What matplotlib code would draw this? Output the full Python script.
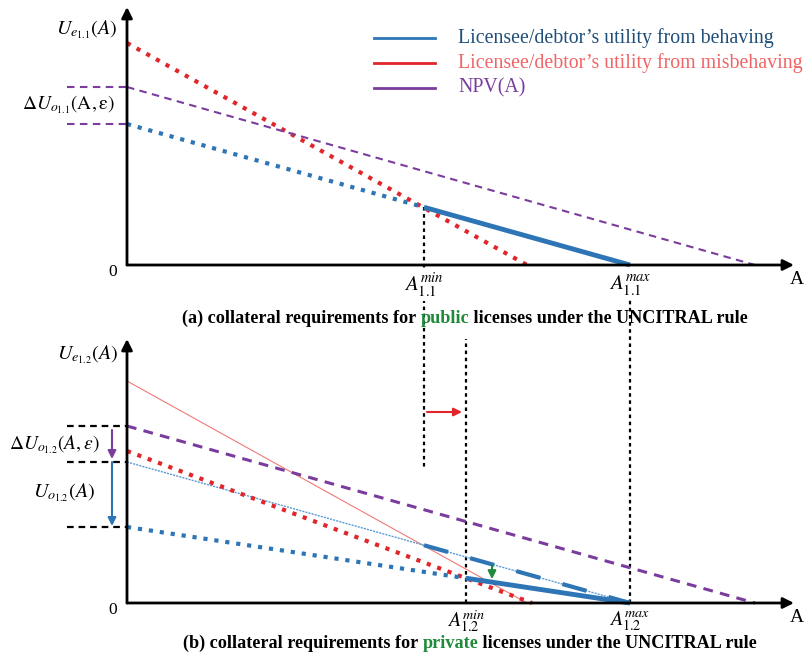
import matplotlib.pyplot as plt

plt.rcParams['mathtext.fontset'] = 'stix'
SERIF = 'Liberation Serif'

BLUE = '#2e75b6'
RED = '#e0262a'
PURPLE = '#7a3d9e'
GREEN = '#1e8a3a'

# each utility line: (value at A = 0, A where it reaches 0), in panel units
behave_a = (141, 503)
misbehave_a = (222, 400)
npv_a = (178, 628)
a_min_a = 297
a_max_a = 503

behave_b = (76, 503)
misbehave_b = (152, 405)
npv_b = (177, 628)
a_min_b = 339
a_max_b = 503

shift_arrow_y = 191
drop_arrow_x = 365

legend_labels = ['Licensee/debtor’s utility from behaving',
                 'Licensee/debtor’s utility from misbehaving',
                 'NPV(A)']
legend_colors = [BLUE, RED, PURPLE]
legend_text_colors = ['#1f4e79', '#f06466', '#7a3d9e']


def line_y(line, x):
    b, x0 = line
    return b * (1 - x / x0)


def seg(ax, line, x0, x1, **kw):
    ax.plot([x0, x1], [line_y(line, x0), line_y(line, x1)],
            clip_on=False, **kw)


def arrow(ax, start, end, color, lw=1.5, ms=12):
    ax.annotate('', xy=end, xytext=start, annotation_clip=False,
                arrowprops=dict(arrowstyle='-|>', color=color, lw=lw,
                                mutation_scale=ms, shrinkA=0, shrinkB=0))


def caption(ax, x, y, parts):
    prev = None
    for txt, col in parts:
        if prev is None:
            prev = ax.text(x, y, txt, color=col, fontsize=13.1, family=SERIF,
                           fontweight='bold', va='center', ha='left',
                           clip_on=False)
        else:
            prev = ax.annotate(txt, xy=(1, 0), xycoords=prev, color=col,
                               fontsize=13.1, family=SERIF, fontweight='bold',
                               va='bottom', ha='left')


W, H = 807, 655
fig = plt.figure(figsize=(W / 100, H / 100), dpi=100)
ax_a = fig.add_axes([127 / W, (H - 265) / H, 680 / W, 265 / H])
ax_b = fig.add_axes([127 / W, (H - 603) / H, 680 / W, 273 / H])
for ax, top in ((ax_a, 265), (ax_b, 273)):
    ax.set_xlim(0, 680)
    ax.set_ylim(0, top)
    ax.axis('off')

dot = dict(ls=':', lw=3)
white = dict(facecolor='white', edgecolor='none', pad=0.5)

# ---------------- panel (a)
ax = ax_a
arrow(ax, (0, 0), (0, 258), 'black', lw=2, ms=16)
arrow(ax, (0, 0), (667, 0), 'black', lw=2, ms=16)
seg(ax, misbehave_a, 0, misbehave_a[1], color=RED, **dot)
seg(ax, npv_a, 0, npv_a[1], color=PURPLE, lw=1.5, ls=(0, (3.6, 2.6)))
seg(ax, behave_a, 0, a_min_a, color=BLUE, **dot)
seg(ax, behave_a, a_min_a, a_max_a, color=BLUE, lw=3.5, solid_capstyle='butt')
for yv in (npv_a[0], behave_a[0]):
    ax.plot([-60, 0], [yv, yv], color=PURPLE, lw=1.5, ls=(0, (3.6, 2.6)),
            clip_on=False)
ax.plot([a_min_a, a_min_a], [line_y(behave_a, a_min_a), -203], color='black',
        lw=1.6, ls=(0, (1.6, 1.6)), clip_on=False, zorder=1)

for i, (lab, lc, tc) in enumerate(zip(legend_labels, legend_colors,
                                      legend_text_colors)):
    yl = 227 - 25 * i
    ax.plot([247, 308], [yl, yl], color=lc, lw=2, clip_on=False)
    ax.text(331, yl, lab, color=tc, fontsize=14.3, family=SERIF,
            va='center', ha='left')

ax.text(-10, 235, r'$U_{e_{1.1}}(A)$', fontsize=14.5, ha='right', va='center')
ax.text(-12, 160, r'$\Delta U_{o_{1.1}}(\mathrm{A},\mathrm{\varepsilon})$',
        fontsize=14, ha='right', va='center')
ax.text(-14, -7, '0', fontsize=12.5, family=SERIF, ha='center', va='center')
ax.text(670, -15, 'A', fontsize=14, family=SERIF, ha='center', va='center')
ax.text(a_min_a, -21, r'$A_{1.1}^{min}$', fontsize=15, ha='center',
        va='center', bbox=white, zorder=3)
ax.text(a_max_a, -21, r'$A_{1.1}^{max}$', fontsize=15, ha='center',
        va='center', bbox=white, zorder=3)
caption(ax, 55, -53, [('(a) collateral requirements for ', 'black'),
                      ('public', GREEN),
                      (' licenses under the UNCITRAL rule', 'black')])

# ---------------- panel (b)
ax = ax_b
arrow(ax, (0, 0), (0, 264), 'black', lw=2, ms=16)
arrow(ax, (0, 0), (667, 0), 'black', lw=2, ms=16)
seg(ax, misbehave_a, 0, misbehave_a[1], color='#f07a78', lw=0.8)
seg(ax, behave_a, 0, behave_a[1], color='#5b9bd5', lw=1.0, ls=(0, (1.5, 0.8)))
seg(ax, behave_a, a_min_a, a_max_a, color=BLUE, lw=3, ls=(0, (6, 5.5)))
seg(ax, npv_b, 0, npv_b[1], color=PURPLE, lw=2.2, ls=(0, (3.2, 2.4)))
seg(ax, misbehave_b, 0, misbehave_b[1], color=RED, **dot)
seg(ax, behave_b, 0, a_min_b, color=BLUE, **dot)
seg(ax, behave_b, a_min_b, a_max_b, color=BLUE, lw=3.5, solid_capstyle='butt')

for yv in (npv_b[0], behave_a[0], behave_b[0]):
    ax.plot([-60, 0], [yv, yv], color='black', lw=1.6, ls=(0, (3, 2.2)),
            clip_on=False)
ax.plot([a_min_b, a_min_b], [0, 264], color='black', lw=1.6,
        ls=(0, (1.6, 1.6)), clip_on=False, zorder=1)
ax.plot([a_max_b, a_max_b], [0, 305], color='black', lw=1.6,
        ls=(0, (1.6, 1.6)), clip_on=False, zorder=1)

arrow(ax, (-15, npv_b[0] - 4), (-15, behave_a[0] + 3), PURPLE)
arrow(ax, (-15, behave_a[0]), (-15, behave_b[0] + 1), BLUE)
arrow(ax, (a_min_a + 3, shift_arrow_y), (a_min_b - 4, shift_arrow_y), RED)
arrow(ax, (drop_arrow_x, line_y(behave_a, drop_arrow_x) - 1),
      (drop_arrow_x, line_y(behave_b, drop_arrow_x) + 3), GREEN)

ax.text(-9, 248, r'$U_{e_{1.2}}(A)$', fontsize=14.5, ha='right', va='center')
ax.text(-27, 158, r'$\Delta U_{o_{1.2}}(A,\varepsilon)$', fontsize=14,
        ha='right', va='center')
ax.text(-32, 110, r'$U_{o_{1.2}}(A)$', fontsize=14.5, ha='right', va='center')
ax.text(-14, -7, '0', fontsize=12.5, family=SERIF, ha='center', va='center')
ax.text(670, -15, 'A', fontsize=14, family=SERIF, ha='center', va='center')
ax.text(a_min_b, -18, r'$A_{1.2}^{min}$', fontsize=14.5, ha='center',
        va='center')
ax.text(a_max_b, -18, r'$A_{1.2}^{max}$', fontsize=14.5, ha='center',
        va='center')
caption(ax, 56, -40, [('(b) collateral requirements for ', 'black'),
                      ('private', GREEN),
                      (' licenses under the UNCITRAL rule', 'black')])

fig.savefig('out.png', dpi=100)
